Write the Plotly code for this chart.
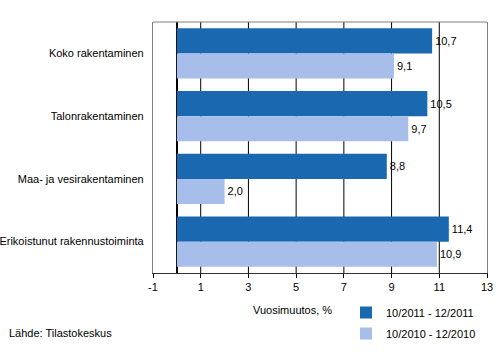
import plotly.graph_objects as go

categories = ["Koko rakentaminen", "Talonrakentaminen", "Maa- ja vesirakentaminen", "Erikoistunut rakennustoiminta"]
series_2011 = [10.7, 10.5, 8.8, 11.4]
series_2010 = [9.1, 9.7, 2.0, 10.9]
name_2011 = "10/2011 - 12/2011"
name_2010 = "10/2010 - 12/2010"
tick_vals = [-1, 1, 3, 5, 7, 9, 11, 13]
tick_text = ["-1", "1", "3", "5", "7", "9", "11", "13"]

FONT = "Liberation Sans, Arial, sans-serif"
L, R, T, B = 153, 15, 22, 83
W, H = 502, 356
pw = W - L - R
ph = H - T - B

fig = go.Figure()
fig.add_trace(go.Bar(
    y=categories, x=series_2011, orientation="h", name=name_2011,
    legendgroup="a",
    marker=dict(color="#1a69b0", line=dict(width=0)),
    text=[f"{v:.1f}".replace(".", ",") for v in series_2011],
    textposition="outside", textfont=dict(size=11, color="black", family=FONT),
    cliponaxis=False,
))
fig.add_trace(go.Bar(
    y=categories, x=series_2010, orientation="h", name=name_2010,
    legendgroup="b",
    marker=dict(color="#a7bdea", line=dict(width=0)),
    text=[f"{v:.1f}".replace(".", ",") for v in series_2010],
    textposition="outside", textfont=dict(size=11, color="black", family=FONT),
    cliponaxis=False,
))

# vertical gridlines at the interior tick values, drawn beneath the bars
for tv in tick_vals[1:-1]:
    fig.add_shape(type="line", xref="x", yref="paper", x0=tv, x1=tv, y0=0, y1=1,
                  line=dict(color="black", width=1), layer="below")
# gray top border of the plot area
fig.add_shape(type="line", xref="paper", yref="paper", x0=0, x1=1, y0=1, y1=1,
              line=dict(color="#808080", width=1), layer="above")

fig.update_layout(
    template="none",
    width=W, height=H,
    margin=dict(l=L, r=R, t=T, b=B, pad=0, autoexpand=False),
    paper_bgcolor="white", plot_bgcolor="white",
    font=dict(family=FONT, size=11, color="black"),
    barmode="group", bargap=0.2, bargroupgap=0,
    separators=", ",
    showlegend=True,
    legend=dict(x=(346 - L) / pw, y=(H - B - 298) / ph, xanchor="left", yanchor="top",
                orientation="v", font=dict(size=11), itemwidth=30,
                tracegroupgap=2, bgcolor="rgba(0,0,0,0)"),
    xaxis=dict(range=[-1, 13], tickmode="array", tickvals=tick_vals, ticktext=tick_text,
               ticks="outside", ticklen=4, tickcolor="black",
               showgrid=False,
               zeroline=True, zerolinecolor="black", zerolinewidth=1.5,
               showline=True, linecolor="#333333", linewidth=1, mirror=False,
               tickfont=dict(size=11), automargin=False),
    yaxis=dict(autorange="reversed", showline=True, linecolor="#808080",
               linewidth=1, mirror=True, ticks="", ticksuffix="  ",
               showgrid=False, zeroline=False, tickfont=dict(size=11), automargin=False),
)
fig.add_annotation(text="Vuosimuutos, %", x=(292 - L) / pw, y=(H - B - 310) / ph,
                   xref="paper", yref="paper", xanchor="center", yanchor="middle",
                   showarrow=False, font=dict(size=11))
fig.add_annotation(text="Lähde: Tilastokeskus", x=(7 - L) / pw, y=(H - B - 333) / ph,
                   xref="paper", yref="paper", xanchor="left", yanchor="middle",
                   showarrow=False, font=dict(size=11))

fig.write_html("out.html", config={"displayModeBar": False},
               post_script="document.body.style.margin='0';")
